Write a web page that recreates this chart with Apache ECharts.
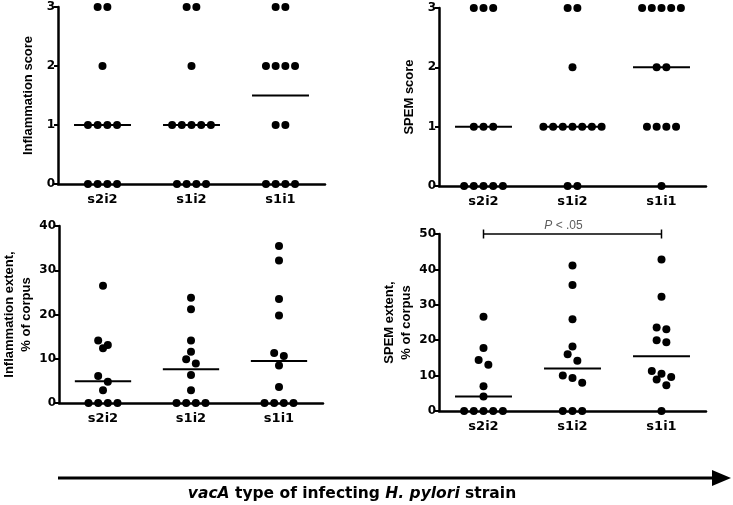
<!DOCTYPE html>
<html lang="en">
<head>
<meta charset="UTF-8">
<title>vacA dot plots</title>
<script src="https://cdn.jsdelivr.net/npm/echarts@6/dist/echarts.min.js"></script>
<style>
  html, body { margin: 0; padding: 0; background: #fff; }
  #chart { width: 733px; height: 505px; }
</style>
</head>
<body>
<div id="chart"></div>
<script>
// categories
var cats = ['s2i2', 's1i2', 's1i1'];

// inflammation score (0-3), per strain
var inflScore = [
    [3, 3, 2, 1, 1, 1, 1, 0, 0, 0, 0],
    [3, 3, 2, 1, 1, 1, 1, 1, 0, 0, 0, 0],
    [3, 3, 2, 2, 2, 2, 1, 1, 0, 0, 0, 0]
];
var inflScoreMed = [1, 1, 1.5];

// SPEM score (0-3)
var spemScore = [
    [3, 3, 3, 1, 1, 1, 0, 0, 0, 0, 0],
    [3, 3, 2, 1, 1, 1, 1, 1, 1, 1, 0, 0],
    [3, 3, 3, 3, 3, 2, 2, 1, 1, 1, 1, 0]
];
var spemScoreMed = [1, 1, 2];

// inflammation extent, % of corpus
var inflExt = [
    [26.5, 14.1, 13.1, 12.4, 6.1, 4.8, 2.9, 0, 0, 0, 0],
    [23.8, 21.2, 14.1, 11.6, 9.9, 8.9, 6.3, 2.9, 0, 0, 0, 0],
    [35.5, 32.2, 23.5, 19.8, 11.3, 10.6, 8.5, 3.6, 0, 0, 0, 0]
];
var inflExtMed = [4.9, 7.6, 9.5];

// SPEM extent, % of corpus
var spemExt = [
    [26.6, 17.8, 14.4, 13.1, 7.0, 4.1, 0, 0, 0, 0, 0],
    [41.1, 35.6, 25.9, 18.2, 16.0, 14.2, 10.0, 9.3, 8.0, 0, 0, 0],
    [42.8, 32.3, 23.6, 23.1, 20.0, 19.4, 11.3, 10.5, 9.6, 8.9, 7.3, 0]
];
var spemExtMed = [4.1, 12.0, 15.5];

var pText = '{i|P} < .05';
var arrowText = '{i|vacA} type of infecting {i|H. pylori} strain';

var panels = [
    {grid: {left: 58, top: 7, width: 267, height: 177}, max: 3, step: 1, name: 'Inflammation score', gap: 21, data: inflScore, med: inflScoreMed},
    {grid: {left: 439, top: 8, width: 267, height: 178}, max: 3, step: 1, name: 'SPEM score', gap: 21, data: spemScore, med: spemScoreMed},
    {grid: {left: 58, top: 226, width: 265, height: 177}, max: 40, step: 10, name: 'Inflammation extent,\n% of corpus', gap: 24, data: inflExt, med: inflExtMed},
    {grid: {left: 439, top: 234, width: 267, height: 177}, max: 50, step: 10, name: 'SPEM extent,\n% of corpus', gap: 24, data: spemExt, med: spemExtMed}
];

var DOT = 8, SPACE = 9.7, ROW = 7.5;
var TICK_FONT = 'DejaVu Sans';

// group nearby values into rows, spread each row evenly around the centre (px)
function swarm(vals, pxPerUnit) {
    var offs = [];
    var i = 0;
    while (i < vals.length) {
        var j = i;
        while (j + 1 < vals.length && (vals[i] - vals[j + 1]) * pxPerUnit < ROW) j++;
        var n = j - i + 1;
        for (var k = 0; k < n; k++) offs.push((k - (n - 1) / 2) * SPACE);
        i = j + 1;
    }
    return offs;
}

var grids = [], xAxes = [], yAxes = [], series = [];
panels.forEach(function (p, pi) {
    grids.push(p.grid);
    xAxes.push({
        type: 'value', gridIndex: pi, min: 0, max: 3, interval: 0.5,
        axisLine: {show: true, onZero: false, lineStyle: {color: '#000', width: 2.5}},
        axisTick: {show: false},
        splitLine: {show: false},
        axisLabel: {
            margin: 9, color: '#000', fontSize: 13, fontWeight: 'bold', fontFamily: TICK_FONT,
            formatter: function (v) {
                var f = v - Math.floor(v);
                return Math.abs(f - 0.5) < 1e-6 ? cats[Math.floor(v)] : '';
            }
        }
    });
    yAxes.push({
        type: 'value', gridIndex: pi, min: 0, max: p.max, interval: p.step,
        name: p.name, nameLocation: 'middle', nameGap: p.gap, nameRotate: 90,
        nameTextStyle: {color: '#000', fontSize: 13, fontWeight: 'bold', fontFamily: 'Liberation Sans', lineHeight: 17},
        axisLine: {show: true, lineStyle: {color: '#000', width: 2.5}},
        axisTick: {show: true, length: 4, lineStyle: {color: '#000', width: 2}},
        splitLine: {show: false},
        axisLabel: {margin: 3, color: '#000', fontSize: 12, fontWeight: 'bold', fontFamily: TICK_FONT}
    });
    var pxY = p.grid.height / p.max;
    var pxX = p.grid.width / 3;
    p.data.forEach(function (vals, ci) {
        var offs = swarm(vals, pxY);
        series.push({
            type: 'scatter', xAxisIndex: pi, yAxisIndex: pi, clip: false,
            symbol: 'circle', symbolSize: DOT, itemStyle: {color: '#000', opacity: 1},
            data: vals.map(function (v, k) { return [ci + 0.5 + offs[k] / pxX, v]; })
        });
        series.push({
            type: 'line', xAxisIndex: pi, yAxisIndex: pi, clip: false, symbol: 'none',
            lineStyle: {color: '#000', width: 2},
            data: [[ci + 0.5 - 0.32, p.med[ci]], [ci + 0.5 + 0.32, p.med[ci]]]
        });
    });
});

// significance bracket on the SPEM extent panel
series.push({
    type: 'line', xAxisIndex: 3, yAxisIndex: 3, clip: false,
    symbol: 'rect', symbolSize: [1.5, 9], itemStyle: {color: '#000', opacity: 1},
    lineStyle: {color: '#000', width: 1.5},
    data: [[0.5, 50], [2.5, 50]]
});
series.push({
    type: 'scatter', xAxisIndex: 3, yAxisIndex: 3, clip: false, symbolSize: 0,
    data: [[1.5, 50]],
    label: {
        show: true, position: 'top', distance: 2, offset: [-9, 0], formatter: pText,
        color: '#333', fontSize: 12, fontFamily: 'Liberation Sans',
        rich: {i: {fontStyle: 'italic', color: '#333', fontSize: 12, fontFamily: 'Liberation Sans'}}
    }
});

var chart = echarts.init(document.getElementById('chart'));
chart.setOption({
    animation: false,
    backgroundColor: '#fff',
    grid: grids,
    xAxis: xAxes,
    yAxis: yAxes,
    series: series,
    graphic: [
        {type: 'line', shape: {x1: 58, y1: 478, x2: 714, y2: 478}, style: {stroke: '#000', lineWidth: 3}},
        {type: 'polygon', shape: {points: [[712, 470], [731, 478], [712, 486]]}, style: {fill: '#000'}},
        {
            type: 'text', x: 352, y: 494,
            style: {
                text: arrowText, align: 'center', verticalAlign: 'middle',
                fill: '#000', fontSize: 15.5, fontWeight: 'bold', fontFamily: 'DejaVu Sans',
                rich: {i: {fontStyle: 'italic', fontWeight: 'bold', fontSize: 15.5, fontFamily: 'DejaVu Sans', fill: '#000'}}
            }
        }
    ]
});
</script>
</body>
</html>
